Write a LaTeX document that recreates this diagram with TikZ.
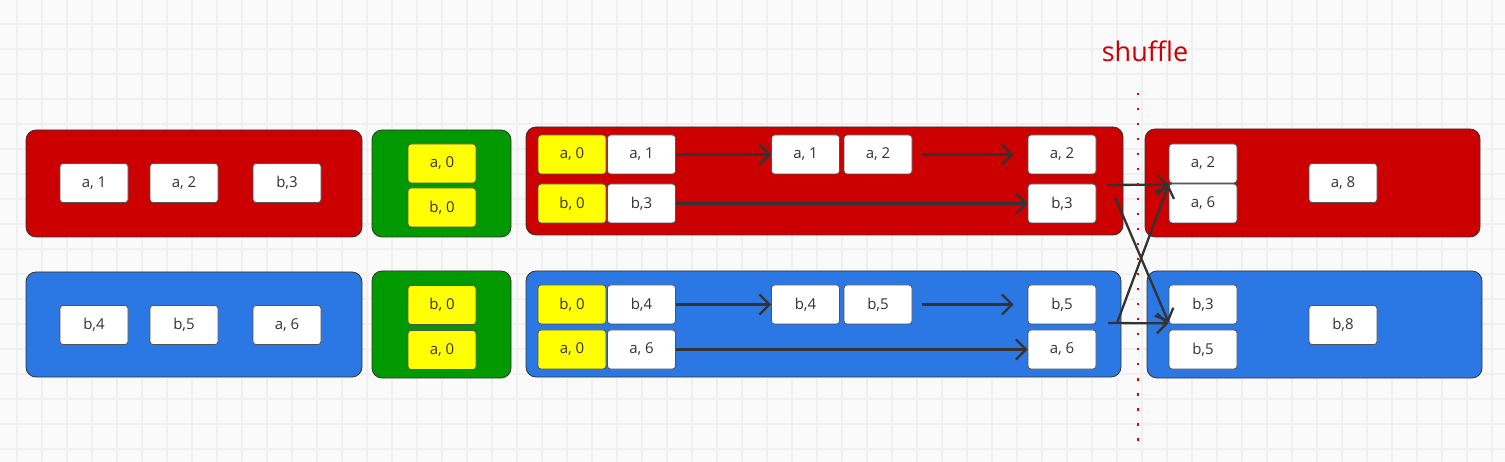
\documentclass[tikz,border=0pt]{standalone}
\usepackage{fontspec}
\setmainfont{Open Sans}
\usetikzlibrary{arrows.meta}
\definecolor{boxred}{RGB}{204,0,0}
\definecolor{boxgreen}{RGB}{0,153,0}
\definecolor{boxblue}{RGB}{43,120,228}
\definecolor{keyyellow}{RGB}{255,255,0}
\definecolor{inkgray}{RGB}{51,51,51}
\definecolor{gridgray}{RGB}{240,240,240}
\definecolor{paper}{RGB}{250,250,250}
\definecolor{cutred}{RGB}{225,0,0}
\tikzset{
  part/.style={draw=inkgray,line width=0.8pt,rounded corners=10pt,inner sep=0pt},
  cell/.style={draw=inkgray!85,fill=white,line width=0.8pt,rounded corners=3pt,
    minimum width=68pt,minimum height=39pt,inner sep=0pt,text=inkgray,
    font=\fontsize{15}{17}\selectfont},
  key/.style={cell,fill=keyyellow},
  link/.style={->,draw=inkgray,line width=2.3pt},
}
\begin{document}
\begin{tikzpicture}[x=1pt,y=-1pt,>={Straight Barb[length=10pt,width=20pt]}]
\fill[paper] (0,0) rectangle (1505,462);
\useasboundingbox (0,0) rectangle (1505,462);
\foreach \x in {17,42,...,1505} {\draw[gridgray,line width=1.2pt] (\x,0)--(\x,462);}
\foreach \y in {24,49,...,462} {\draw[gridgray,line width=1.2pt] (0,\y)--(1505,\y);}
% partitions
\node[part,fill=boxred,minimum width=336pt,minimum height=107pt] (pl) at (194,183.5) {};
\node[part,fill=boxgreen,minimum width=139pt,minimum height=107pt] (gt) at (441.5,183.5) {};
\node[part,fill=boxred,minimum width=597pt,minimum height=108pt] (pm) at (824.5,181) {};
\node[part,fill=boxred,minimum width=335pt,minimum height=108pt] (pr) at (1312.5,183) {};
\node[part,fill=boxblue,minimum width=336pt,minimum height=105pt] (ql) at (194,324.5) {};
\node[part,fill=boxgreen,minimum width=139pt,minimum height=107pt] (gb) at (441.5,324.5) {};
\node[part,fill=boxblue,minimum width=595pt,minimum height=106pt] (qm) at (823.5,324) {};
\node[part,fill=boxblue,minimum width=335pt,minimum height=107pt] (qr) at (1314.5,324.5) {};
% input records
\node[cell] (la1) at (94,183) {a, 1};
\node[cell] (la2) at (184,183) {a, 2};
\node[cell] (lb3) at (287,183) {b,3};
\node[cell] (lb4) at (94,325) {b,4};
\node[cell] (lb5) at (184,325) {b,5};
\node[cell] (la6) at (287,325) {a, 6};
% zero values
\node[key] (ga0) at (442,163.5) {a, 0};
\node[key] (gb0) at (442,207.5) {b, 0};
\node[key] (hb0) at (442,305) {b, 0};
\node[key] (ha0) at (442,350) {a, 0};
% folding, red partition
\node[key] (ma0) at (572,154.5) {a, 0};
\node[cell] (ma1) at (641.5,154.5) {a, 1};
\node[cell] (na1) at (805.5,154.5) {a, 1};
\node[cell] (na2) at (878,154.5) {a, 2};
\node[cell] (oa2) at (1062,154.5) {a, 2};
\node[key] (mb0) at (572,203.5) {b, 0};
\node[cell] (mb3) at (641.5,203.5) {b,3};
\node[cell] (ob3) at (1062,203.5) {b,3};
\draw[link] (ma1) -- (na1);
\draw[link] ([xshift=10pt]na2.east) -- ([xshift=-14pt]oa2.west);
\draw[link] (mb3) -- (ob3);
% folding, blue partition
\node[key] (kb0) at (572,304.5) {b, 0};
\node[cell] (kb4) at (641.5,304.5) {b,4};
\node[cell] (tb4) at (805.5,304.5) {b,4};
\node[cell] (tb5) at (878,304.5) {b,5};
\node[cell] (ub5) at (1062,304.5) {b,5};
\node[key] (ka0) at (572,349.5) {a, 0};
\node[cell] (ka6) at (641.5,349.5) {a, 6};
\node[cell] (ua6) at (1062,349.5) {a, 6};
\draw[link] (kb4) -- (tb4);
\draw[link] ([xshift=10pt]tb5.east) -- ([xshift=-14pt]ub5.west);
\draw[link] (ka6) -- (ua6);
% after shuffle
\node[cell] (ra2) at (1203,163.5) {a, 2};
\node[cell] (ra6) at (1203,203.5) {a, 6};
\node[cell] (ra8) at (1343,183) {a, 8};
\node[cell] (rb3) at (1203,304.5) {b,3};
\node[cell] (rb5) at (1203,349.5) {b,5};
\node[cell] (rb8) at (1343,325) {b,8};
\coordinate (x1) at (1108,185);
\coordinate (x2) at (1115,197);
\coordinate (x3) at (1117,323);
\coordinate (x4) at (1108,323);
\draw[link] (x1) -- ([yshift=-1pt]ra6.north west);
\draw[link] (x2) -- ([yshift=2pt]rb3.south west);
\draw[link] (x3) -- ([yshift=-1pt]ra6.north west);
\draw[link] (x4) -- ([yshift=1pt]rb3.south west);
\draw[cutred,line width=2.5pt,dash pattern=on 2.5pt off 12.5pt] (1138,93)--(1138,445);
\node[text=boxred,font=\fontsize{27}{30}\selectfont] (shuf) at (1145,51) {shuffle};
\end{tikzpicture}
\end{document}
